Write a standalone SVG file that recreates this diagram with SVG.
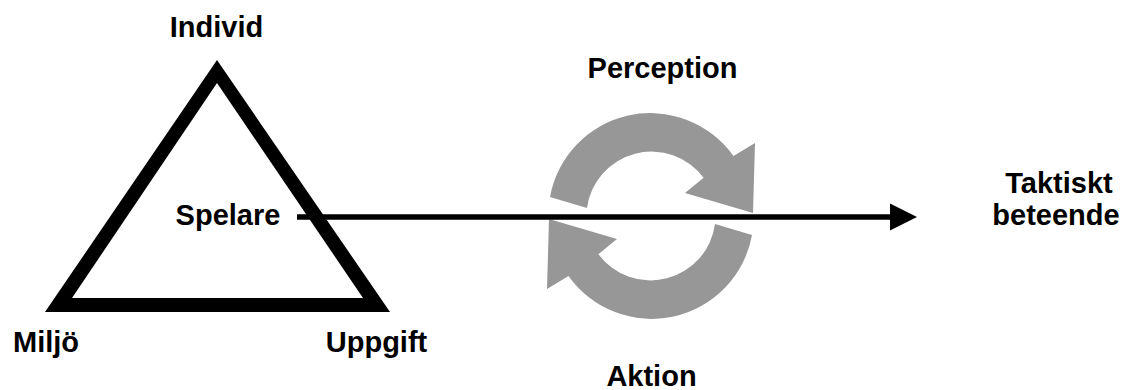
<svg xmlns="http://www.w3.org/2000/svg" xmlns:xlink="http://www.w3.org/1999/xlink" width="1131" height="390" viewBox="0 0 1131 390">
  <style>
    .lbl { font-family: "Liberation Sans", Arial, sans-serif; font-weight: bold; font-size: 29px; fill: #000; text-anchor: middle; }
    .cycle { fill: #979797; }
  </style>
  <defs>
    <!-- one curved arrow of the cycle; the second is the same shape turned 180 degrees -->
    <path id="curvedArrow" d="M 550 197 A 102 102 0 0 1 733.5 156 L 755 143 L 753 213 L 685 193 L 703.6 177.8 A 65 65 0 0 0 587 208 Z"/>
  </defs>
  <rect width="1131" height="390" fill="#fff"/>

  <g id="triangle">
    <path d="M 217 60 L 45 312 L 390 312 Z M 217 83 L 363 298 L 72 298 Z" fill="#000" fill-rule="evenodd"/>
    <text class="lbl" x="216.5" y="37">Individ</text>
    <text class="lbl" x="46" y="352">Miljö</text>
    <text class="lbl" x="376.5" y="352">Uppgift</text>
  </g>

  <g id="spelare">
    <text class="lbl" x="228" y="225">Spelare</text>
  </g>

  <g id="cycle">
    <use xlink:href="#curvedArrow" class="cycle"/>
    <use xlink:href="#curvedArrow" class="cycle" transform="rotate(180 651 216)"/>
    <text class="lbl" x="662.5" y="78">Perception</text>
    <text class="lbl" x="651.5" y="386">Aktion</text>
  </g>

  <g id="taktiskt-beteende">
    <text class="lbl" x="1059" y="193">Taktiskt</text>
    <text class="lbl" x="1056" y="225">beteende</text>
  </g>

  <g id="connectors">
    <line x1="297" y1="217" x2="891" y2="217" stroke="#000" stroke-width="5.5"/>
    <polygon points="890,203.5 917,217 890,230.5" fill="#000"/>
  </g>
</svg>
